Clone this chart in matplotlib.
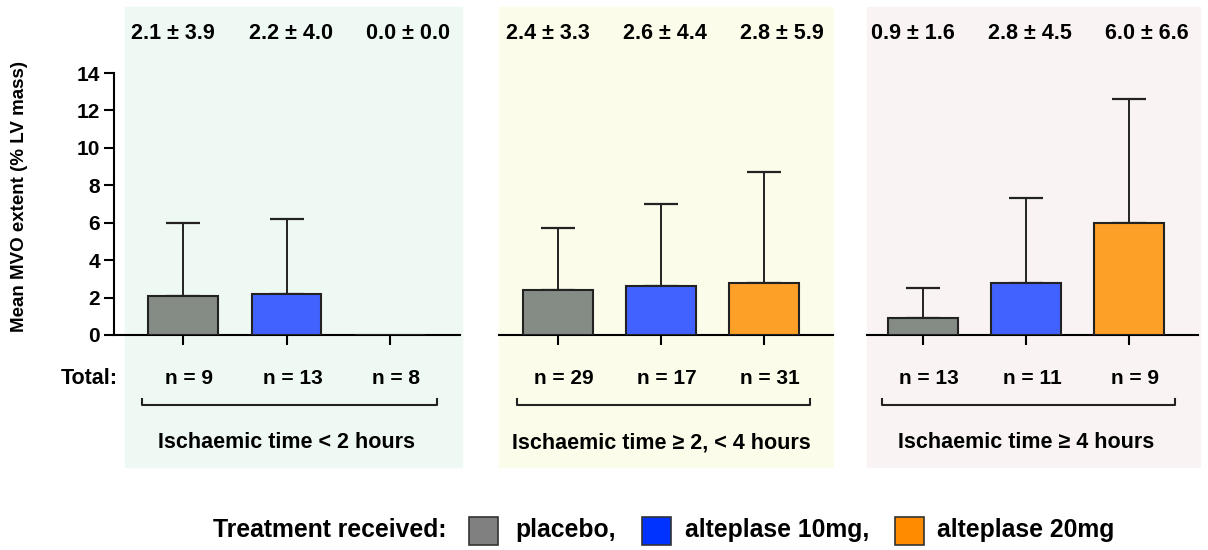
import numpy as np
import matplotlib.pyplot as plt
from matplotlib.patches import Rectangle

plt.rcParams['font.family'] = ['Liberation Sans', 'DejaVu Sans']
plt.rcParams['font.weight'] = 'bold'

# mean +/- SD of MVO extent, one row per ischaemic-time group
groups = ['Ischaemic time < 2 hours', 'Ischaemic time ≥ 2, < 4 hours', 'Ischaemic time ≥ 4 hours']
treatments = ['placebo,', 'alteplase 10mg,', 'alteplase 20mg']
means = [[2.1, 2.2, 0.0],
         [2.4, 2.6, 2.8],
         [0.9, 2.8, 6.0]]
sds = [[3.9, 4.0, 0.0],
       [3.3, 4.4, 5.9],
       [1.6, 4.5, 6.6]]
counts = [[9, 13, 8],
          [29, 17, 31],
          [13, 11, 9]]
yticks = [0, 2, 4, 6, 8, 10, 12, 14]

bar_colors = ['#858b85', '#4262ff', '#fda027']
legend_colors = ['#808080', '#0033ff', '#ff8c00']
panel_bg = ['#eff9f4', '#fbfdea', '#faf3f3']

W, H = 1208, 550
def fx(px):
    return px / W
def fy(py):
    return 1 - py / H

fig = plt.figure(figsize=(W / 100, H / 100), dpi=100)

# pixel layout: background extent, axes extent, first bar centre, bar spacing
panels = [(125, 462, 114, 460, 183, 103.5),
          (499, 833, 499, 833, 558, 103),
          (867, 1200, 867, 1198, 923, 103)]
y0_px, y14_px = 335, 73
x = np.arange(3)
label_shift = [-0.1, 0.04, 0.17]

for i, (bl, br, al, ar, c0, sp) in enumerate(panels):
    fig.patches.append(Rectangle((fx(bl), fy(467)), fx(br) - fx(bl), fy(7) - fy(467),
                                 transform=fig.transFigure, color=panel_bg[i], zorder=-1))
    ax = fig.add_axes([fx(al), fy(y0_px), fx(ar) - fx(al), fy(y14_px) - fy(y0_px)])
    ax.set_zorder(1)
    ax.patch.set_alpha(0)
    ax.set_xlim((al - c0) / sp, (ar - c0) / sp)
    ax.set_ylim(0, 14)

    m = np.array(means[i])
    s = np.array(sds[i])
    ax.bar(x, m, width=0.67, color=bar_colors, edgecolor='#222222', linewidth=1.5, zorder=3)
    keep = s > 0
    ax.errorbar(x[keep], m[keep], yerr=[np.zeros(keep.sum()), s[keep]], fmt='none',
                ecolor='#222222', elinewidth=1.4, capsize=12.5, capthick=1.6, zorder=2)

    for j in range(3):
        ax.text(x[j] + label_shift[j], 16.1, f'{means[i][j]:.1f} ± {sds[i][j]:.1f}',
                ha='center', va='center', fontsize=15.5)
        ax.text(x[j] + 0.06, -2.3, f'n = {counts[i][j]}', ha='center', va='center', fontsize=15)

    # bracket under the group
    ax.plot([-0.4, -0.4, 2.45, 2.45], [-3.42, -3.74, -3.74, -3.42], color='#222222',
            lw=1.5, clip_on=False)
    ax.text(1.0, -5.75, groups[i], ha='center', va='center', fontsize=15.5)

    ax.set_xticks(x)
    ax.set_xticklabels([])
    ax.tick_params(axis='x', length=7, width=1.5, direction='out')
    for side in ['top', 'right']:
        ax.spines[side].set_visible(False)
    ax.spines['bottom'].set_linewidth(1.5)
    if i == 0:
        ax.spines['left'].set_linewidth(1.5)
        ax.set_yticks(yticks)
        ax.tick_params(axis='y', length=7, width=1.5, labelsize=15, pad=3)
    else:
        ax.spines['left'].set_visible(False)
        ax.set_yticks([])

fig.text(fx(20), fy(196), 'Mean MVO extent (% LV mass)', rotation=90,
         ha='center', va='center', fontsize=13.5)
fig.text(fx(118), fy(378), 'Total:', ha='right', va='center', fontsize=15.5)

# treatment key along the bottom
fig.text(fx(213), fy(530), 'Treatment received:', ha='left', va='center', fontsize=17.8)
key_pos = [(469, 515), (642, 685), (895, 937)]
for k, (sq, tx) in enumerate(key_pos):
    fig.patches.append(Rectangle((fx(sq), fy(545)), fx(29), 28 / H, transform=fig.transFigure,
                                 facecolor=legend_colors[k], edgecolor='#333333', lw=1.2))
    fig.text(fx(tx), fy(530), treatments[k], ha='left', va='center', fontsize=17.8)

fig.savefig('out.png', dpi=100)
